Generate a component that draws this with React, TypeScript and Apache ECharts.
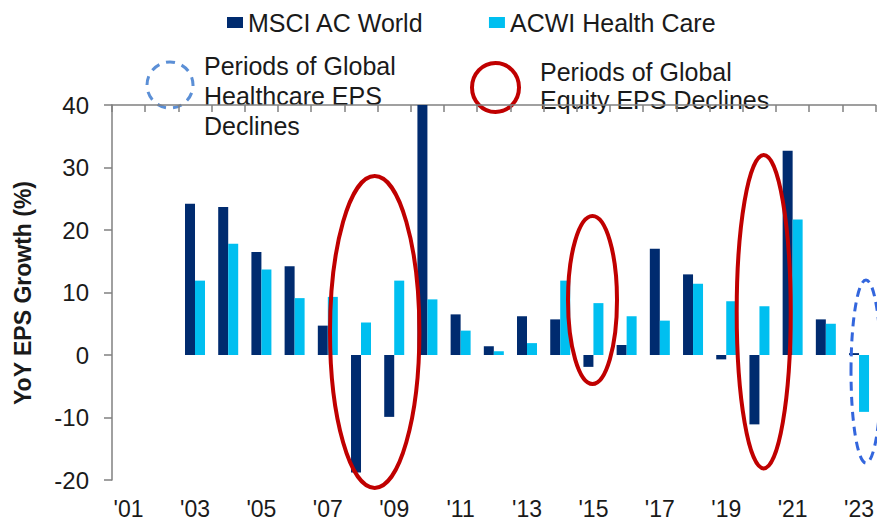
import React, { useEffect, useRef } from "react";
import * as echarts from "echarts";

const years = ["'01", "'02", "'03", "'04", "'05", "'06", "'07", "'08", "'09", "'10", "'11", "'12", "'13", "'14", "'15", "'16", "'17", "'18", "'19", "'20", "'21", "'22", "'23"];
const msciWorld = [null, null, 24.2, 23.7, 16.5, 14.2, 4.7, -18.8, -9.9, 40, 6.5, 1.4, 6.2, 5.7, -1.9, 1.6, 17.0, 12.9, -0.7, -11.1, 32.7, 5.7, 0.3];
const healthCare = [null, null, 11.9, 17.8, 13.7, 9.1, 9.3, 5.2, 11.9, 8.9, 3.9, 0.6, 1.9, 11.9, 8.3, 6.2, 5.5, 11.4, 8.6, 7.8, 21.7, 5.0, -9.1];
const yTicks = { min: -20, max: 40, interval: 10 };

const FONT = '"Liberation Sans", Arial, sans-serif';
const TEXT = "#1a1a1a";
const AXIS = "#808080";
const RED = "#c00000";

export default function App() {
  const ref = useRef<HTMLDivElement>(null);
  useEffect(() => {
    if (!ref.current) return;
    const chart = echarts.init(ref.current, null, { renderer: "svg" });
    chart.setOption({
      animation: false,
      backgroundColor: "#ffffff",
      textStyle: { fontFamily: FONT },
      legend: {
        left: 227,
        top: 10,
        padding: 0,
        icon: "rect",
        itemWidth: 16,
        itemHeight: 11,
        itemGap: 65,
        textStyle: { fontSize: 25, color: TEXT, fontFamily: FONT },
        data: ["MSCI AC World", "ACWI Health Care"],
      },
      grid: { left: 112, right: 0, top: 105, bottom: 45 },
      xAxis: [
        {
          type: "category",
          data: years,
          position: "bottom",
          axisLine: { show: false },
          axisTick: { show: false },
          axisLabel: { interval: 1, fontSize: 23, color: TEXT, margin: 17, fontFamily: FONT },
        },
        {
          type: "category",
          data: years,
          position: "top",
          axisLine: { show: true, onZero: true, lineStyle: { color: AXIS, width: 1.5 } },
          axisTick: { show: true, inside: true, interval: 0, length: 7, lineStyle: { color: AXIS, width: 1.5 } },
          axisLabel: { show: false },
        },
      ],
      yAxis: {
        type: "value",
        min: yTicks.min,
        max: yTicks.max,
        interval: yTicks.interval,
        axisLine: { show: true, lineStyle: { color: AXIS, width: 1.5 } },
        axisTick: { show: true, length: 8, lineStyle: { color: AXIS, width: 1.5 } },
        splitLine: { show: false },
        axisLabel: { fontSize: 24, color: TEXT, margin: 23, fontFamily: FONT },
      },
      series: [
        {
          name: "MSCI AC World",
          type: "bar",
          xAxisIndex: 0,
          data: msciWorld,
          barWidth: 10,
          barGap: "0%",
          itemStyle: { color: "#002b6f" },
        },
        {
          name: "ACWI Health Care",
          type: "bar",
          xAxisIndex: 0,
          data: healthCare,
          barWidth: 10,
          barGap: "0%",
          itemStyle: { color: "#00bff0" },
        },
      ],
      graphic: [
        {
          type: "text",
          x: 23,
          y: 293,
          rotation: Math.PI / 2,
          style: {
            text: "YoY EPS Growth (%)",
            font: `bold 23px ${FONT}`,
            fill: TEXT,
            align: "center",
            verticalAlign: "middle",
          },
        },
        {
          type: "ellipse",
          shape: { cx: 170, cy: 85, rx: 23, ry: 23 },
          style: { fill: "none", stroke: "#5b8fd6", lineWidth: 3, lineDash: [9, 7] },
        },
        {
          type: "text",
          x: 204,
          y: 51,
          style: {
            text: "Periods of Global\nHealthcare EPS\nDeclines",
            font: `25px ${FONT}`,
            lineHeight: 30,
            fill: TEXT,
            verticalAlign: "top",
          },
        },
        {
          type: "ellipse",
          shape: { cx: 495.5, cy: 87.5, rx: 23.5, ry: 24.5 },
          style: { fill: "none", stroke: RED, lineWidth: 4 },
        },
        {
          type: "text",
          x: 540,
          y: 58,
          style: {
            text: "Periods of Global\nEquity EPS Declines",
            font: `25px ${FONT}`,
            lineHeight: 28,
            fill: TEXT,
            verticalAlign: "top",
          },
        },
        {
          type: "ellipse",
          z: 100,
          shape: { cx: 374.7, cy: 332, rx: 44.7, ry: 156 },
          style: { fill: "none", stroke: RED, lineWidth: 4 },
        },
        {
          type: "ellipse",
          z: 100,
          shape: { cx: 592.5, cy: 300, rx: 24.5, ry: 84 },
          style: { fill: "none", stroke: RED, lineWidth: 4 },
        },
        {
          type: "ellipse",
          z: 100,
          shape: { cx: 763.7, cy: 311.7, rx: 27, ry: 156.7 },
          style: { fill: "none", stroke: RED, lineWidth: 4 },
        },
        {
          type: "ellipse",
          z: 100,
          shape: { cx: 866, cy: 371.5, rx: 15, ry: 91.5 },
          style: { fill: "none", stroke: "#3366dd", lineWidth: 3, lineDash: [9, 6] },
        },
      ],
    });
    return () => chart.dispose();
  }, []);
  return (
    <div
      ref={ref}
      style={{ position: "fixed", left: 0, top: 0, width: 877, height: 525 }}
    />
  );
}
